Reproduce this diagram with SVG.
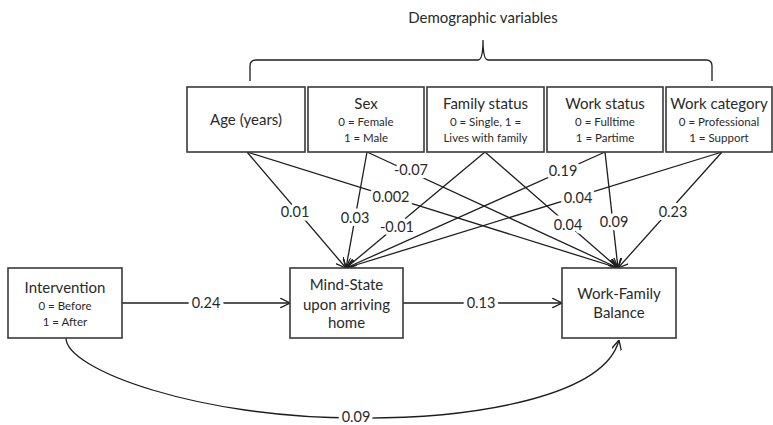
<svg xmlns="http://www.w3.org/2000/svg" width="773" height="425" viewBox="0 0 773 425">
  <style>
    .box { fill: #ffffff; stroke: #3a3a3a; stroke-width: 1.6; }
    .edge { fill: none; stroke: #1e1e1e; stroke-width: 1.3; }
    text { font-family: Lato, "Open Sans", "Liberation Sans", sans-serif; fill: #2a2a2a; text-anchor: middle; }
    .title { font-size: 15px; }
    .sub { font-size: 11.5px; }
    .lbl { font-size: 14.5px; paint-order: stroke; stroke: #ffffff; stroke-width: 7px; stroke-linejoin: round; }
  </style>
  <defs>
    <marker id="arrow" viewBox="0 0 10 10" refX="10" refY="5" markerWidth="10" markerHeight="10" markerUnits="userSpaceOnUse" orient="auto">
      <path d="M0,0 L10,5 L0,10" fill="none" stroke="#1e1e1e" stroke-width="1.3"/>
    </marker>
  </defs>

  <rect width="773" height="425" fill="#ffffff"/>

  <!-- heading and brace over the demographic block -->
  <g id="demographic-brace">
    <text class="title" x="483" y="23">Demographic variables</text>
    <path class="edge" d="M250,81 L250,66 Q250,60 256,60 L478,60 Q483,60 483,40 Q483,60 488,60 L706,60 Q712,60 712,66 L712,81"/>
  </g>

  <!-- connectors -->
  <g id="connectors">
    <!-- Age -->
    <line class="edge" x1="247" y1="152" x2="346" y2="268" marker-end="url(#arrow)"/>
    <line class="edge" x1="247" y1="152" x2="618" y2="268" marker-end="url(#arrow)"/>
    <!-- Sex -->
    <line class="edge" x1="367" y1="152" x2="346" y2="268" marker-end="url(#arrow)"/>
    <line class="edge" x1="367" y1="152" x2="618" y2="268" marker-end="url(#arrow)"/>
    <!-- Family status -->
    <line class="edge" x1="485" y1="152" x2="346" y2="268" marker-end="url(#arrow)"/>
    <line class="edge" x1="485" y1="152" x2="618" y2="268" marker-end="url(#arrow)"/>
    <!-- Work status -->
    <line class="edge" x1="605" y1="152" x2="346" y2="268" marker-end="url(#arrow)"/>
    <line class="edge" x1="605" y1="152" x2="618" y2="268" marker-end="url(#arrow)"/>
    <!-- Work category -->
    <line class="edge" x1="722" y1="152" x2="346" y2="268" marker-end="url(#arrow)"/>
    <line class="edge" x1="722" y1="152" x2="618" y2="268" marker-end="url(#arrow)"/>
    <!-- main path -->
    <line class="edge" x1="122" y1="303" x2="290" y2="303" marker-end="url(#arrow)"/>
    <line class="edge" x1="403" y1="303" x2="562" y2="303" marker-end="url(#arrow)"/>
    <!-- direct effect -->
    <path class="edge" d="M66,338 C66,370 200,418 356,418 C480,419 605,395 619,340" marker-end="url(#arrow)"/>

    <!-- coefficients -->
    <text class="lbl" x="295" y="217">0.01</text>
    <text class="lbl" x="391" y="202">0.002</text>
    <text class="lbl" x="355" y="223">0.03</text>
    <text class="lbl" x="411" y="175">-0.07</text>
    <text class="lbl" x="397" y="232">-0.01</text>
    <text class="lbl" x="568" y="230">0.04</text>
    <text class="lbl" x="563" y="176">0.19</text>
    <text class="lbl" x="614" y="227">0.09</text>
    <text class="lbl" x="578" y="203">0.04</text>
    <text class="lbl" x="673" y="217">0.23</text>
    <text class="lbl" x="206" y="308">0.24</text>
    <text class="lbl" x="481" y="308">0.13</text>
    <text class="lbl" x="356" y="422">0.09</text>
  </g>

  <!-- demographic nodes -->
  <g id="age">
    <rect class="box" x="187" y="87" width="118" height="65"/>
    <text class="title" x="246" y="125">Age (years)</text>
  </g>
  <g id="sex">
    <rect class="box" x="308" y="87" width="116" height="65"/>
    <text class="title" x="366" y="109">Sex</text>
    <text class="sub" x="366" y="126">0 = Female</text>
    <text class="sub" x="366" y="142">1 = Male</text>
  </g>
  <g id="family-status">
    <rect class="box" x="427" y="87" width="117" height="65"/>
    <text class="title" x="485.5" y="109">Family status</text>
    <text class="sub" x="485.5" y="126">0 = Single, 1 =</text>
    <text class="sub" x="485.5" y="142">Lives with family</text>
  </g>
  <g id="work-status">
    <rect class="box" x="547" y="87" width="116" height="65"/>
    <text class="title" x="605" y="109">Work status</text>
    <text class="sub" x="605" y="126">0 = Fulltime</text>
    <text class="sub" x="605" y="142">1 = Partime</text>
  </g>
  <g id="work-category">
    <rect class="box" x="666" y="87" width="106" height="65"/>
    <text class="title" x="719" y="109">Work category</text>
    <text class="sub" x="719" y="126">0 = Professional</text>
    <text class="sub" x="719" y="142">1 = Support</text>
  </g>

  <!-- model nodes -->
  <g id="intervention">
    <rect class="box" x="8" y="268" width="114" height="70"/>
    <text class="title" x="65" y="293">Intervention</text>
    <text class="sub" x="65" y="310">0 = Before</text>
    <text class="sub" x="65" y="326">1 = After</text>
  </g>
  <g id="mind-state">
    <rect class="box" x="290" y="268" width="113" height="70"/>
    <text class="title" x="346.5" y="290">Mind-State</text>
    <text class="title" x="346.5" y="310">upon arriving</text>
    <text class="title" x="346.5" y="328">home</text>
  </g>
  <g id="work-family-balance">
    <rect class="box" x="562" y="268" width="114" height="70"/>
    <text class="title" x="619" y="299">Work-Family</text>
    <text class="title" x="619" y="318">Balance</text>
  </g>
</svg>
